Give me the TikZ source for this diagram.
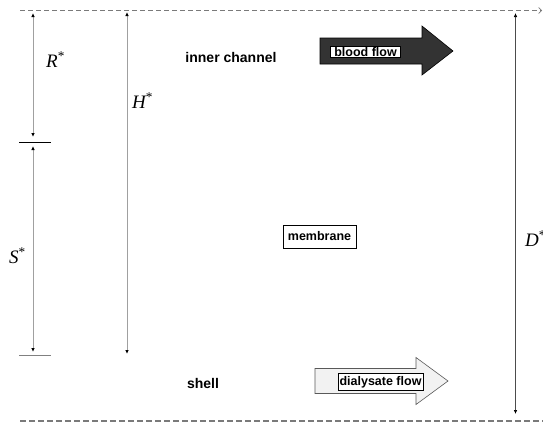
\documentclass[tikz,border=0pt]{standalone}
\usepackage{fontspec}
\setmainfont{Liberation Sans}
\newfontfamily\timesx{Liberation Serif}
\usetikzlibrary{arrows.meta}
\definecolor{dimgray}{HTML}{A0A0A0}
\definecolor{dashgray}{HTML}{7A7A7A}
\definecolor{bloodfill}{HTML}{333333}
\definecolor{dialfill}{HTML}{F2F2F2}
\begin{document}
\begin{tikzpicture}[x=1pt,y=-1pt,
  tipx/.tip={Latex[length=4pt,width=3.5pt,color=black]},
  dimarrow/.style={draw=dimgray,line width=0.8pt,tipx-tipx},
  darkarrow/.style={draw=black!70,line width=0.7pt,tipx-tipx},
  region/.style={font=\fontsize{14}{16}\selectfont\bfseries,inner sep=0pt},
  boxlab/.style={draw=black,fill=white,line width=0.6pt,font=\fontsize{12.5}{14}\selectfont\bfseries},
  mathlab/.style={anchor=base west,inner sep=0pt,font=\timesx\fontsize{19}{21}\selectfont\itshape},
  topdash/.style={draw=dashgray,line width=0.6pt,dash pattern=on 5pt off 3pt},
  botdash/.style={draw=dashgray,line width=2pt,dash pattern=on 6pt off 3pt}]
\useasboundingbox (0,0) rectangle (543,423);

% boundary dashed lines
\coordinate (tl) at (20,10.5);
\coordinate (tr) at (542,10.5);
\coordinate (bl) at (20,420.5);
\coordinate (br) at (543,420.5);
\draw[topdash,-{Straight Barb[length=3pt,width=6pt]}] (tl) -- (tr);
\draw[botdash] (bl) -- (br);

% tick lines
\coordinate (t1a) at (19,142);
\coordinate (t1b) at (51,142);
\coordinate (t2a) at (19,355);
\coordinate (t2b) at (51,355);
\draw[black,line width=0.8pt] (t1a) -- (t1b);
\draw[gray,line width=1pt] (t2a) -- (t2b);

% dimension arrows
\coordinate (rtop) at (33,13);
\coordinate (rbot) at (33,137);
\coordinate (stop) at (33,146);
\coordinate (sbot) at (33,352);
\coordinate (htop) at (127,12);
\coordinate (hbot) at (127,354);
\coordinate (dtop) at (515.5,13);
\coordinate (dbot) at (515.5,414);
\draw[dimarrow] (rtop) -- (rbot);
\draw[dimarrow] (stop) -- (sbot);
\draw[dimarrow] (htop) -- (hbot);
\draw[darkarrow] (dtop) -- (dbot);

\node[mathlab] (R) at (46,67) {R\textsuperscript{\upshape *}};
\node[mathlab] (S) at (9,263) {S\textsuperscript{\upshape *}};
\node[mathlab] (H) at (132,108) {H\textsuperscript{\upshape *}};
\node[mathlab] (D) at (525,246) {D\textsuperscript{\upshape *}};

% region labels
\node[region] (inner) at (231,57) {inner channel};
\node[region] (shell) at (203,383) {shell};

% blood flow arrow
\path[fill=bloodfill,draw=black,line width=0.6pt]
  (320,38) -- (422,38) -- (422,26) -- (453,51) -- (422,75) -- (422,64) -- (320,64) -- cycle;
\node[boxlab,inner xsep=3.5pt,inner ysep=1pt,text height=8.5pt,text depth=0pt] (blood) at (365.5,52) {blood flow};

% dialysate flow arrow
\path[fill=dialfill,draw=black!65,line width=0.6pt]
  (315,368.5) -- (416,368.5) -- (416,357.5) -- (448,381) -- (416,404.5) -- (416,393.5) -- (315,393.5) -- cycle;
\node[boxlab,inner xsep=1.5pt,inner ysep=2.5pt,text height=9pt,text depth=3pt] (dial) at (380.5,382) {dialysate flow};

% membrane
\node[boxlab,minimum width=73pt,minimum height=23pt,inner sep=0pt] (mem) at (319.5,236.5) {membrane};
\end{tikzpicture}
\end{document}
